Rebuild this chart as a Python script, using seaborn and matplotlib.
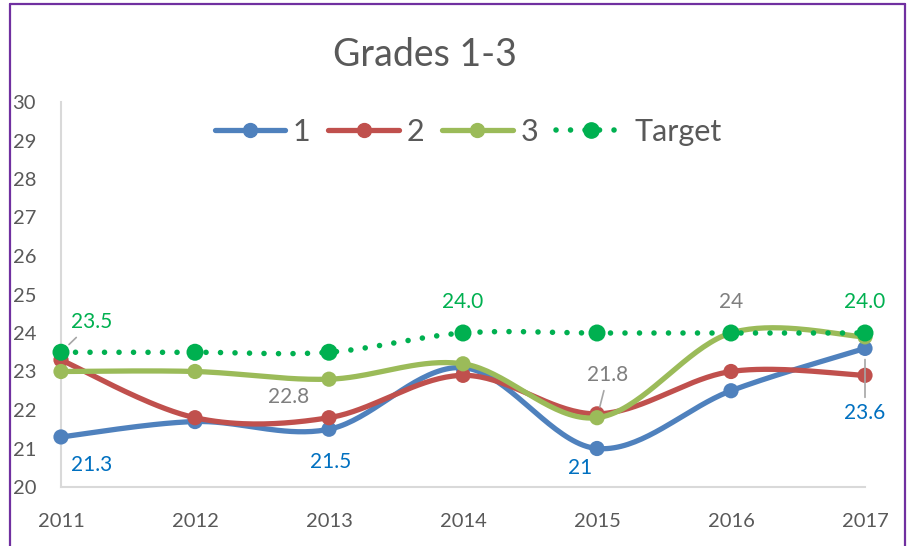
import numpy as np
import pandas as pd
import matplotlib
matplotlib.use("Agg")
import matplotlib.pyplot as plt
from matplotlib.lines import Line2D
import seaborn as sns

# data
years = [2011, 2012, 2013, 2014, 2015, 2016, 2017]
grade1 = [21.3, 21.7, 21.5, 23.1, 21.0, 22.5, 23.6]
grade2 = [23.3, 21.8, 21.8, 22.9, 21.9, 23.0, 22.9]
grade3 = [23.0, 23.0, 22.8, 23.2, 21.8, 24.0, 23.9]
target = [23.5, 23.5, 23.5, 24.0, 24.0, 24.0, 24.0]
series_names = ["1", "2", "3", "Target"]
yticks = [20, 21, 22, 23, 24, 25, 26, 27, 28, 29, 30]

BLUE = "#4F81BD"
RED = "#C0504D"
GREEN = "#9BBB59"
TGREEN = "#00B050"
TEXT = "#595959"


def smooth(xs, ys, n=40):
    """Excel style smoothed line (Catmull-Rom bezier through the points)."""
    P = np.column_stack([xs, ys]).astype(float)
    ext = np.vstack([P[0], P, P[-1]])
    out = []
    t = np.linspace(0, 1, n)[:, None]
    for i in range(len(P) - 1):
        p0, p1, p2, p3 = ext[i], ext[i + 1], ext[i + 2], ext[i + 3]
        c1 = p1 + (p2 - p0) / 6
        c2 = p2 - (p3 - p1) / 6
        seg = (1 - t) ** 3 * p1 + 3 * (1 - t) ** 2 * t * c1 + 3 * (1 - t) * t ** 2 * c2 + t ** 3 * p2
        out.append(seg if i == 0 else seg[1:])
    return np.vstack(out)


sns.set_theme(style="white")
plt.rcParams["font.family"] = ["Lato", "DejaVu Sans"]

fig = plt.figure(figsize=(9.09, 5.46), dpi=100)
ax = fig.add_axes([61 / 909, 1 - 487 / 546, (865 - 61) / 909, (487 - 102) / 546])

lines = [(grade1, BLUE), (grade2, RED), (grade3, GREEN)]
for k, (vals, col) in enumerate(lines):
    s = smooth(years, vals)
    sns.lineplot(x=s[:, 0], y=s[:, 1], sort=False, estimator=None, color=col,
                 linewidth=3.8, solid_capstyle="round", ax=ax, zorder=3 + k, clip_on=False)
    sns.scatterplot(x=years, y=vals, color=col, s=120, edgecolor="none", ax=ax,
                    zorder=3 + k, clip_on=False)

s = smooth(years, target)
sns.lineplot(x=s[:, 0], y=s[:, 1], sort=False, estimator=None, color=TGREEN,
             linewidth=4, linestyle=(0, (0.01, 2.6)), dash_capstyle="round",
             ax=ax, zorder=7, clip_on=False)
sns.scatterplot(x=years, y=target, color=TGREEN, s=150, edgecolor="none", ax=ax,
                zorder=7, clip_on=False)

ax.set_xlim(2011, 2017)
ax.set_ylim(20, 30)
ax.set_xticks(years)
ax.set_xticklabels([str(y) for y in years])
ax.set_yticks(yticks)
for side in ["top", "right"]:
    ax.spines[side].set_visible(False)
for side in ["left", "bottom"]:
    ax.spines[side].set_color("#D9D9D9")
    ax.spines[side].set_linewidth(1.5)
ax.tick_params(axis="both", colors="#D9D9D9", labelcolor=TEXT, labelsize=14.5,
               length=6, width=1.5, direction="out")
ax.tick_params(axis="y", pad=12)
ax.tick_params(axis="x", pad=13)
ax.set_xlabel("")
ax.set_ylabel("")
ax.grid(False)
ax.set_facecolor("white")


# data labels
def label(x, y, txt, dx, dy, color, leader=False):
    ax.annotate(txt, xy=(x, y), xytext=(dx, dy), textcoords="offset pixels",
                ha="center", va="center", fontsize=15, color=color, zorder=10,
                annotation_clip=False,
                arrowprops=dict(arrowstyle="-", color="#A6A6A6", lw=1.2,
                                shrinkA=2, shrinkB=8) if leader else None)


label(years[0], target[0], f"{target[0]:.1f}", 31, 30, TGREEN, leader=True)
label(years[3], target[3], f"{target[3]:.1f}", 0, 31, TGREEN)
label(years[6], target[6], f"{target[6]:.1f}", 0, 31, TGREEN)
label(years[0], grade1[0], f"{grade1[0]:g}", 31, -28, "#0070C0")
label(years[2], grade1[2], f"{grade1[2]:g}", 2, -33, "#0070C0")
label(years[4], grade1[4], f"{grade1[4]:g}", -17, -20, "#0070C0")
label(years[6], grade1[6], f"{grade1[6]:g}", 0, -65, "#0070C0", leader=True)
label(years[2], grade3[2], f"{grade3[2]:g}", -40, -18, "#7F7F7F")
label(years[4], grade3[4], f"{grade3[4]:g}", 11, 43, "#7F7F7F", leader=True)
label(years[5], grade3[5], f"{grade3[5]:g}", 0, 31, "#7F7F7F")

# legend
handles = [
    Line2D([], [], color=BLUE, lw=3.8, marker="o", markersize=10, solid_capstyle="round"),
    Line2D([], [], color=RED, lw=3.8, marker="o", markersize=10, solid_capstyle="round"),
    Line2D([], [], color=GREEN, lw=3.8, marker="o", markersize=10, solid_capstyle="round"),
    Line2D([], [], color=TGREEN, lw=4, marker="o", markersize=11,
           linestyle=(0, (0.01, 2.6)), dash_capstyle="round"),
]
fig.legend(handles, series_names, loc="center", bbox_to_anchor=(468 / 909, 1 - 132 / 546),
           ncol=4, frameon=False, fontsize=22, handlelength=2.3, handletextpad=0.25,
           columnspacing=0.6, labelcolor=TEXT)

fig.text(425 / 909, 1 - 55 / 546, "Grades 1-3", ha="center", va="center",
         fontsize=27, color=TEXT)

# purple chart border
border = dict(color="#7030A0", lw=1.6, transform=fig.transFigure)
fig.add_artist(Line2D([10 / 909, 10 / 909], [0, 1 - 4 / 546], **border))
fig.add_artist(Line2D([10 / 909, 905 / 909], [1 - 4 / 546, 1 - 4 / 546], **border))
fig.add_artist(Line2D([905 / 909, 905 / 909], [0, 1 - 4 / 546], **border))

fig.savefig("out.png", dpi=100, facecolor="white")
